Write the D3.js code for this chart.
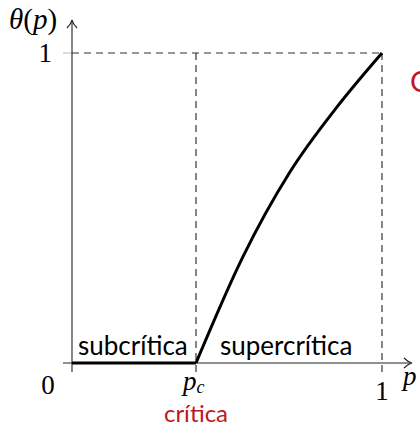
<!DOCTYPE html>
<html>
<head>
<meta charset="utf-8">
<script src="https://cdn.jsdelivr.net/npm/d3@7"></script>
<style>
  html, body { margin: 0; padding: 0; background: #fff; overflow: hidden; }
  svg { display: block; }
</style>
</head>
<body>
<svg id="chart" width="420" height="426"></svg>
<script>
// ---- data ----
const subP = [0, 0.4];
const subTheta = [0, 0];
const superP = [0.4, 0.55, 0.703, 0.855, 1];
const superTheta = [0, 0.34, 0.616, 0.826, 1];
const pc = 0.4;
const xTickLabels = ["0", "p", "1"];
const regionLabels = ["subcrítica", "supercrítica"];
const criticalLabel = "crítica";

const svg = d3.select("#chart");
const x = d3.scaleLinear().domain([0, 1]).range([72, 382]);
const y = d3.scaleLinear().domain([0, 1]).range([363, 53]);

const axisColor = "#222";
const serif = "'Liberation Serif', 'DejaVu Serif', serif";
const sans = "Lato, 'Open Sans', 'DejaVu Sans', sans-serif";
const red = "#c0171d";

// dashed guides
svg.append("line")
  .attr("x1", x(0)).attr("x2", x(1))
  .attr("y1", y(1)).attr("y2", y(1))
  .attr("stroke", "#333").attr("stroke-width", 1.2)
  .attr("stroke-dasharray", "7,5");
[pc, 1].forEach(v => {
  svg.append("line")
    .attr("x1", x(v)).attr("x2", x(v))
    .attr("y1", y(1)).attr("y2", y(0) + 9)
    .attr("stroke", "#333").attr("stroke-width", 1.2)
    .attr("stroke-dasharray", "7,5");
});
// small tick at y=1
svg.append("line")
  .attr("x1", x(0) - 9).attr("x2", x(0))
  .attr("y1", y(1)).attr("y2", y(1))
  .attr("stroke", "#bbb").attr("stroke-width", 1);

// axes
svg.append("line")
  .attr("x1", x(0) - 9).attr("x2", 410)
  .attr("y1", y(0)).attr("y2", y(0))
  .attr("stroke", axisColor).attr("stroke-width", 1.1);
svg.append("line")
  .attr("x1", x(0)).attr("x2", x(0))
  .attr("y1", y(0) + 9).attr("y2", 22)
  .attr("stroke", axisColor).attr("stroke-width", 1.1);
// arrow heads
svg.append("path")
  .attr("d", `M404,${y(0) - 5} Q408,${y(0) - 1} 412,${y(0)} Q408,${y(0) + 1} 404,${y(0) + 5}`)
  .attr("fill", "none").attr("stroke", axisColor).attr("stroke-width", 1.1);
svg.append("path")
  .attr("d", `M${x(0) - 5},28 Q${x(0) - 1},24 ${x(0)},20 Q${x(0) + 1},24 ${x(0) + 5},28`)
  .attr("fill", "none").attr("stroke", axisColor).attr("stroke-width", 1.1);

// curve
const lineLin = d3.line().x(d => x(d[0])).y(d => y(d[1]));
svg.append("path")
  .datum(subP.map((p, i) => [p, subTheta[i]]))
  .attr("d", lineLin)
  .attr("fill", "none").attr("stroke", "#000").attr("stroke-width", 3);
const lineSmooth = d3.line().x(d => x(d[0])).y(d => y(d[1])).curve(d3.curveMonotoneX);
svg.append("path")
  .datum(superP.map((p, i) => [p, superTheta[i]]))
  .attr("d", lineSmooth)
  .attr("fill", "none").attr("stroke", "#000").attr("stroke-width", 3)
  .attr("stroke-linejoin", "round");

// labels
svg.append("text").attr("x", 9).attr("y", 29)
  .attr("font-family", serif).attr("font-size", 29)
  .html('<tspan font-style="italic">θ</tspan>(<tspan font-style="italic">p</tspan>)');
svg.append("text").attr("x", 52).attr("y", y(1) + 9)
  .attr("text-anchor", "end")
  .attr("font-family", serif).attr("font-size", 27).text("1");
svg.append("text").attr("x", 48).attr("y", 394)
  .attr("text-anchor", "middle")
  .attr("font-family", serif).attr("font-size", 27).text(xTickLabels[0]);
svg.append("text").attr("x", x(1)).attr("y", 400)
  .attr("text-anchor", "middle")
  .attr("font-family", serif).attr("font-size", 27).text(xTickLabels[2]);
const pcText = svg.append("text").attr("x", x(pc) - 13).attr("y", 390)
  .attr("font-family", serif).attr("font-size", 27);
pcText.append("tspan").attr("font-style", "italic").text(xTickLabels[1]);
pcText.append("tspan").attr("font-style", "italic").attr("font-size", 18)
  .attr("dy", 3).text("c");
svg.append("text").attr("x", 403).attr("y", 385)
  .attr("font-family", serif).attr("font-style", "italic").attr("font-size", 27).text("p");

svg.append("text").attr("x", 78).attr("y", 355)
  .attr("font-family", sans).attr("font-size", 26).text(regionLabels[0]);
svg.append("text").attr("x", 220).attr("y", 355)
  .attr("font-family", sans).attr("font-size", 26).text(regionLabels[1]);
svg.append("text").attr("x", x(pc)).attr("y", 422)
  .attr("text-anchor", "middle")
  .attr("font-family", sans).attr("font-size", 24).attr("fill", red).text(criticalLabel);
svg.append("text").attr("x", 410).attr("y", 92)
  .attr("font-family", sans).attr("font-size", 29).attr("fill", red).text("C");
</script>
</body>
</html>
